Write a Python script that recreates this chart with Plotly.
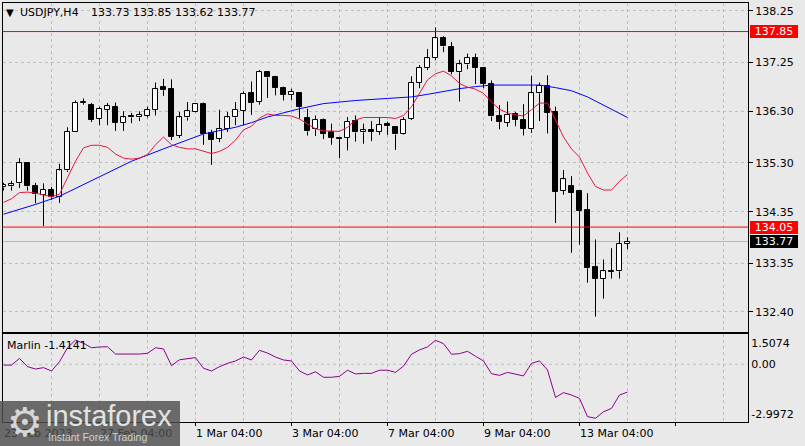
import plotly.graph_objects as go

# ---------------- data ----------------
opens = [134.82, 134.84, 134.90, 135.29, 134.85, 134.68, 134.78, 134.63, 135.15, 135.90,
         136.46, 136.42, 136.16, 136.33, 136.38, 136.07, 136.20, 136.18, 136.21, 136.33,
         136.77, 136.73, 135.82, 136.18, 136.29, 136.44, 135.87, 135.77, 135.95, 136.18,
         136.31, 136.66, 136.48, 137.06, 136.96, 136.75, 136.62, 136.65, 136.17, 135.95,
         136.13, 135.90, 135.79, 135.79, 136.11, 135.89, 135.93, 135.90, 136.06, 136.00,
         135.85, 136.15, 136.86, 137.14, 137.33, 137.73, 137.55, 137.06, 137.21, 137.34,
         137.14, 136.84, 136.21, 136.08, 136.25, 136.13, 135.95, 136.65, 136.79, 136.29,
         134.76, 134.84, 134.76, 134.38, 133.28, 133.05, 133.20, 133.19, 133.73]
highs = [134.91, 134.95, 135.39, 135.31, 134.91, 134.90, 134.83, 135.28, 135.99, 136.51,
         136.55, 136.46, 136.39, 136.46, 136.47, 136.30, 136.27, 136.30, 136.39, 136.86,
         136.93, 136.92, 136.29, 136.48, 136.45, 136.47, 135.94, 136.33, 136.29, 136.48,
         136.69, 136.88, 137.10, 137.07, 136.99, 136.78, 136.74, 136.65, 136.35, 136.22,
         136.16, 136.06, 135.80, 136.19, 136.22, 136.06, 136.11, 136.19, 136.10, 136.00,
         136.19, 136.98, 137.20, 137.51, 137.93, 137.76, 137.65, 137.30, 137.42, 137.42,
         137.14, 136.90, 136.42, 136.49, 136.29, 136.44, 136.99, 136.86, 137.00, 136.39,
         135.16, 135.04, 134.77, 134.71, 133.81, 133.42, 133.64, 133.95, 133.85]
lows = [134.76, 134.76, 134.81, 134.76, 134.51, 134.07, 134.58, 134.52, 135.12, 135.90,
        136.43, 136.09, 136.03, 136.03, 135.92, 135.92, 136.07, 136.11, 136.18, 136.22,
        136.60, 135.74, 135.78, 136.12, 136.28, 135.65, 135.26, 135.70, 135.90, 136.03,
        136.03, 136.23, 136.43, 136.56, 136.61, 136.51, 136.52, 136.16, 135.83, 135.82,
        135.76, 135.65, 135.39, 135.54, 135.71, 135.67, 135.72, 135.84, 135.84, 135.55,
        135.84, 136.13, 136.75, 137.10, 137.29, 137.45, 137.02, 136.49, 137.12, 136.83,
        136.75, 136.11, 135.95, 136.00, 136.01, 135.83, 135.88, 136.11, 135.87, 134.13,
        134.68, 133.55, 133.71, 132.97, 132.31, 132.66, 133.05, 133.05, 133.62]
closes = [134.87, 134.88, 135.29, 134.84, 134.69, 134.78, 134.63, 135.15, 135.90, 136.46,
          136.48, 136.13, 136.35, 136.40, 136.08, 136.18, 136.18, 136.23, 136.33, 136.73,
          136.71, 135.80, 136.18, 136.30, 136.44, 135.85, 135.74, 135.95, 136.18, 136.33,
          136.64, 136.47, 137.06, 136.96, 136.75, 136.62, 136.68, 136.38, 135.91, 136.13,
          135.86, 135.79, 135.77, 136.10, 135.89, 135.93, 135.90, 136.03, 136.01, 135.85,
          136.14, 136.86, 137.14, 137.33, 137.72, 137.56, 137.07, 137.21, 137.34, 137.14,
          136.83, 136.20, 136.09, 136.23, 136.13, 135.96, 136.65, 136.79, 136.27, 134.73,
          134.98, 134.72, 134.37, 133.25, 133.05, 133.19, 133.18, 133.73, 133.77]

red_ma = [134.53, 134.60, 134.72, 134.73, 134.71, 134.68, 134.64, 134.69, 135.00, 135.33,
          135.59, 135.64, 135.64, 135.60, 135.47, 135.39, 135.37, 135.39, 135.46, 135.65,
          135.80, 135.65, 135.60, 135.57, 135.57, 135.52, 135.48, 135.52, 135.60, 135.74,
          135.94, 136.01, 136.17, 136.25, 136.22, 136.22, 136.21, 136.15, 136.05, 135.96,
          135.92, 135.91, 135.91, 135.99, 136.13, 136.18, 136.18, 136.18, 136.18, 136.16,
          136.22, 136.39, 136.66, 136.91, 137.03, 137.08, 136.99, 136.84, 136.77, 136.73,
          136.65, 136.48, 136.34, 136.27, 136.23, 136.21, 136.33, 136.46, 136.46, 136.13,
          135.80, 135.57, 135.41, 135.10, 134.84, 134.77, 134.77, 134.94, 135.07]

blue_idx = [0, 4, 7, 12, 16, 20, 23, 25, 29, 31, 33, 37, 40, 44, 48, 51, 53, 55, 57, 59,
            61, 66, 67, 69, 71, 73, 75, 78]
blue_ma = [134.30, 134.49, 134.65, 135.02, 135.33, 135.57, 135.74, 135.86, 135.99, 136.08,
           136.19, 136.35, 136.45, 136.51, 136.55, 136.58, 136.63, 136.69, 136.74, 136.78,
           136.81, 136.81, 136.81, 136.76, 136.70, 136.58, 136.42, 136.18]

marlin = [-0.04, -0.04, 0.30, -0.12, -0.24, -0.17, -0.34, 0.13, 0.84, 1.23,
          1.07, 0.84, 0.88, 0.89, 0.52, 0.52, 0.51, 0.52, 0.56, 0.84,
          0.78, -0.07, 0.23, 0.27, 0.34, -0.20, -0.34, -0.12, 0.05, 0.17,
          0.37, 0.22, 0.71, 0.57, 0.37, 0.22, 0.17, -0.34, -0.54, -0.38,
          -0.66, -0.66, -0.61, -0.30, -0.49, -0.46, -0.46, -0.30, -0.30, -0.41,
          -0.09, 0.51, 0.73, 0.88, 1.22, 1.05, 0.51, 0.54, 0.66, 0.41,
          0.17, -0.48, -0.56, -0.41, -0.51, -0.59, 0.05, 0.17, -0.29, -1.68,
          -1.44, -1.56, -1.73, -2.66, -2.74, -2.41, -2.24, -1.56, -1.4141]

price_ticks = [138.25, 137.25, 136.30, 135.30, 134.35, 133.35, 132.40]
level_lines = [137.85, 134.05]
last_price = 133.77
marlin_labels = ["1.5074", "0.00", "-2.9972"]
marlin_label_pos = [1.06, 0.0, -2.54]
time_idx = [0, 12, 24, 36, 48, 60, 72]
time_labels = ["23 Feb 2023", "27 Feb 04:00", "1 Mar 04:00", "3 Mar 04:00",
               "7 Mar 04:00", "9 Mar 04:00", "13 Mar 04:00"]
header_symbol = "USDJPY,H4"
header_ohlc = "133.73 133.85 133.62 133.77"

# ---------------- layout helpers ----------------
W, H = 805, 446
ML, MR, MT, MB = 3, 57, 3, 24
PW = W - ML - MR
PH = H - MT - MB
FONT = "DejaVu Sans"
BG = "#E9E9E9"
GRID = "#BEBEBE"


def pxx(px):
    return (px - ML) / PW


def pxy(py):
    return (H - MB - py) / PH


idx = list(range(len(opens)))
xr = [-0.0625, -0.0625 + PW / 8.0]

fig = go.Figure()

# candle wicks (above/below bodies)
wx, wy = [], []
for i in idx:
    top = max(opens[i], closes[i])
    bot = min(opens[i], closes[i])
    wx += [i, i, None, i, i, None]
    wy += [highs[i], top, None, bot, lows[i], None]
fig.add_trace(go.Scatter(x=wx, y=wy, mode="lines", line=dict(color="black", width=1),
                         hoverinfo="skip", xaxis="x", yaxis="y"))

# candle bodies
body_lo = [min(o, c) for o, c in zip(opens, closes)]
body_h = [abs(c - o) for o, c in zip(opens, closes)]
body_col = ["white" if c >= o else "black" for o, c in zip(opens, closes)]
fig.add_trace(go.Bar(x=idx, y=body_h, base=body_lo, width=0.55,
                     marker=dict(color=body_col, line=dict(color="black", width=1)),
                     hoverinfo="skip", xaxis="x", yaxis="y"))

# moving averages
fig.add_trace(go.Scatter(x=blue_idx, y=blue_ma, mode="lines",
                         line=dict(color="#0000FF", width=1), hoverinfo="skip",
                         xaxis="x", yaxis="y"))
fig.add_trace(go.Scatter(x=idx, y=red_ma, mode="lines",
                         line=dict(color="#E8173F", width=1), hoverinfo="skip",
                         xaxis="x", yaxis="y"))

# Marlin indicator
fig.add_trace(go.Scatter(x=idx, y=marlin, mode="lines",
                         line=dict(color="#8B008B", width=1), hoverinfo="skip",
                         xaxis="x2", yaxis="y2"))

shapes = []
shapes.append(dict(type="line", xref="x domain", yref="y", x0=0, x1=1,
                   y0=last_price, y1=last_price, line=dict(color="#B8B8B8", width=1),
                   layer="below"))
for lv in level_lines:
    shapes.append(dict(type="line", xref="x domain", yref="y", x0=0, x1=1,
                       y0=lv, y1=lv, line=dict(color="#FF0000", width=1), layer="above"))
shapes.append(dict(type="line", xref="x2 domain", yref="y2", x0=0, x1=1, y0=0, y1=0,
                   line=dict(color=GRID, width=1, dash="3px,3px"), layer="below"))
shapes.append(dict(type="rect", xref="paper", yref="paper", x0=pxx(0), x1=pxx(180),
                   y0=pxy(446), y1=pxy(401), fillcolor="rgba(78,78,78,0.82)",
                   line=dict(width=0), layer="above"))

annotations = []


def ann(text, x, y, xref="paper", yref="paper", size=11, color="black",
        xanchor="left", yanchor="middle", family=FONT, **kw):
    d = dict(text=text, x=x, y=y, xref=xref, yref=yref, showarrow=False,
             xanchor=xanchor, yanchor=yanchor, borderpad=0, borderwidth=0,
             font=dict(family=family, size=size, color=color))
    d.update(kw)
    annotations.append(d)


# header
ann("\u25BC", pxx(6), pxy(12), size=10)
ann(header_symbol, pxx(20), pxy(12))
ann(header_ohlc, pxx(91), pxy(12))
ann("Marlin " + f"{marlin[-1]:.4f}", pxx(7), pxy(345))

# price level tags
for lv in level_lines:
    ann(f"{lv:.2f}", pxx(750), lv, yref="y", color="white", bgcolor="#FF0000",
        width=48, height=13, align="center")
ann(f"{last_price:.2f}", pxx(750), last_price, yref="y", color="white", bgcolor="#000000",
    width=48, height=13, align="center")

# time labels
for ti, tl in zip(time_idx, time_labels):
    col = "#404040" if ti < 20 else "black"
    ann(tl, ti, pxy(434), xref="x2", color=col)

# watermark content
ann("\u2699", pxx(25), pxy(422), size=40, color="#D6D6D6", xanchor="center",
    family="DejaVu Sans")
ann("instaforex", pxx(46), pxy(416), size=29, color="#E2E2E2", family="Liberation Sans")
ann("Instant Forex Trading", pxx(48), pxy(437), size=10.5, color="#D0D0D0",
    family="Liberation Sans")

axis_common = dict(showline=True, mirror=True, linecolor="black", linewidth=1,
                   zeroline=False, fixedrange=True)

fig.update_layout(
    width=W, height=H,
    margin=dict(l=ML, r=MR, t=MT, b=MB, pad=0),
    paper_bgcolor=BG, plot_bgcolor=BG,
    showlegend=False,
    font=dict(family=FONT, size=11, color="black"),
    xaxis=dict(domain=[0, 1], anchor="y", range=xr, tickmode="array",
               tickvals=[12 * k for k in range(1, 8)], ticks="", showticklabels=False,
               showgrid=True, gridcolor=GRID, gridwidth=1, griddash="3px,3px",
               minor=dict(tickvals=[6 + 12 * k for k in range(8)], showgrid=True,
                          gridcolor=GRID, gridwidth=1, griddash="3px,3px", ticks=""),
               **axis_common),
    xaxis2=dict(domain=[0, 1], anchor="y2", range=xr, matches="x", tickmode="array",
                tickvals=[12 * k for k in range(1, 8)], ticks="outside", ticklen=3,
                tickcolor="black", showticklabels=False,
                showgrid=True, gridcolor=GRID, gridwidth=1, griddash="3px,3px",
                minor=dict(tickvals=[6 + 12 * k for k in range(8)], showgrid=True,
                           gridcolor=GRID, gridwidth=1, griddash="3px,3px", ticks=""),
                **axis_common),
    yaxis=dict(domain=[pxy(331.7), 1.0], anchor="x", side="right",
               range=[132.017, 138.405], tickmode="array", tickvals=price_ticks,
               ticktext=[f"{v:.2f}" for v in price_ticks], ticks="outside", ticklen=4,
               tickcolor="black", tickfont=dict(family=FONT, size=11, color="black"),
               showgrid=True, gridcolor=GRID, gridwidth=1, griddash="3px,3px",
               **axis_common),
    yaxis2=dict(domain=[0, pxy(334.3)], anchor="x2", side="right",
                range=[-2.931, 1.524], tickmode="array", tickvals=marlin_label_pos,
                ticktext=marlin_labels, ticks="", showgrid=False,
                tickfont=dict(family=FONT, size=11, color="black"),
                **axis_common),
    shapes=shapes,
    annotations=annotations,
    bargap=0,
)

fig.write_html(
    "out.html",
    config={"displayModeBar": False},
    post_script="document.body.style.margin='0';document.body.style.padding='0';"
                "document.body.style.overflow='hidden';"
                "document.documentElement.style.background='" + BG + "';",
)
